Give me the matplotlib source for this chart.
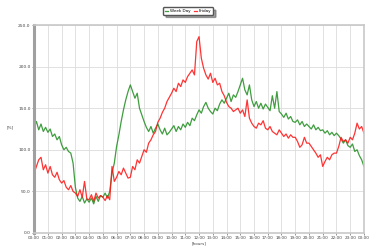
#load profile - week day vs friday

import numpy as np
import matplotlib.pyplot as plt

# 10-minute samples from 00:00 to 24:00 (values in %)
week_day = [128, 134, 124, 131, 122, 127,
            121, 125, 116, 119, 112, 116,
            106, 100, 103, 98, 96, 84,
            55, 42, 38, 44, 36, 41,
            37, 42, 35, 44, 38, 45,
            43, 48, 42, 50, 72, 84,
            104, 118, 134, 148, 160, 170,
            178, 170, 162, 168, 150, 142,
            134, 127, 122, 128, 120, 126,
            131, 124, 119, 126, 118, 121,
            125, 129, 122, 128, 124, 131,
            127, 133, 129, 138, 135, 142,
            148, 144, 152, 157, 150, 146,
            143, 150, 147, 155, 160, 156,
            162, 168, 158, 166, 163, 170,
            178, 186, 172, 166, 178, 160,
            152, 158, 150, 156, 149, 155,
            151, 147, 165, 150, 170, 146,
            143, 139, 144, 137, 140, 134,
            133, 136, 130, 134, 128, 131,
            128, 125, 130, 124, 127, 123,
            124, 120, 123, 118, 121, 117,
            120, 117, 113, 108, 112, 105,
            103, 107, 98, 100, 93, 88,
            80]

friday = [72, 80, 88, 91, 76, 82,
          72, 80, 70, 67, 73, 64,
          60, 63, 55, 52, 57, 50,
          48, 44, 52, 43, 62, 41,
          40, 46, 38, 48, 42, 45,
          43, 39, 45, 40, 80, 62,
          67, 74, 70, 78, 72, 66,
          67, 80, 76, 88, 84, 92,
          100, 97, 108, 112, 118, 122,
          133, 138, 145, 150, 158, 163,
          168, 174, 170, 180, 176, 184,
          181, 188, 192, 196, 190, 230,
          236, 210, 198, 190, 185, 192,
          181, 186, 178, 180, 170, 165,
          157, 152, 150, 146, 148, 150,
          144, 148, 140, 160, 138, 132,
          128, 126, 132, 130, 135, 126,
          124, 128, 122, 120, 118, 124,
          120, 116, 119, 114, 118, 115,
          115, 110, 103, 106, 115, 108,
          108, 104, 100, 96, 91, 94,
          80, 86, 91, 88, 94, 96,
          96, 104, 115, 110, 112, 108,
          115, 112, 120, 132, 125, 128,
          120]

hours = np.arange(len(week_day)) / 6.0
hour_labels = ['%02d:00' % (h % 24) for h in range(25)]
y_ticks = [0, 50, 100, 150, 200, 250]

fig = plt.figure(figsize=(3.88, 2.5), dpi=100)
ax = fig.add_axes([0.088, 0.068, 0.85, 0.832])

ax.plot(hours, week_day, color='#1e8c1e', lw=0.9, alpha=0.85, label='Week Day')
ax.plot(hours, friday, color='#ff1010', lw=0.9, alpha=0.85, label='Friday')

ax.set_xlim(0, 24)
ax.set_ylim(0, 250)
ax.set_xticks(range(25))
ax.set_xticklabels(hour_labels, fontsize=3)
ax.set_yticks(y_ticks)
ax.set_yticklabels(['%.1f' % v for v in y_ticks], fontsize=3.2)
ax.tick_params(length=1.5, width=0.4, pad=1, colors='#444444')
ax.grid(True, color='#dcdcdc', lw=0.6)

for s in ['top', 'right', 'bottom']:
    ax.spines[s].set_color('#c8c8c8')
    ax.spines[s].set_linewidth(1.2)
ax.spines['left'].set_color('#a0a0a0')
ax.spines['left'].set_linewidth(2.2)

ax.set_xlabel('[hours]', fontsize=3, labelpad=1, color='#444444')
ax.set_ylabel('[%]', fontsize=3, labelpad=6, rotation=0, color='#444444')

fig.legend(loc='center', bbox_to_anchor=(0.485, 0.956), ncol=2, fontsize=3,
           handlelength=0.8, handletextpad=0.4, columnspacing=0.8,
           borderpad=0.4, shadow=True, fancybox=True, framealpha=1,
           edgecolor='#555555')

fig.savefig('out.png', dpi=100)
